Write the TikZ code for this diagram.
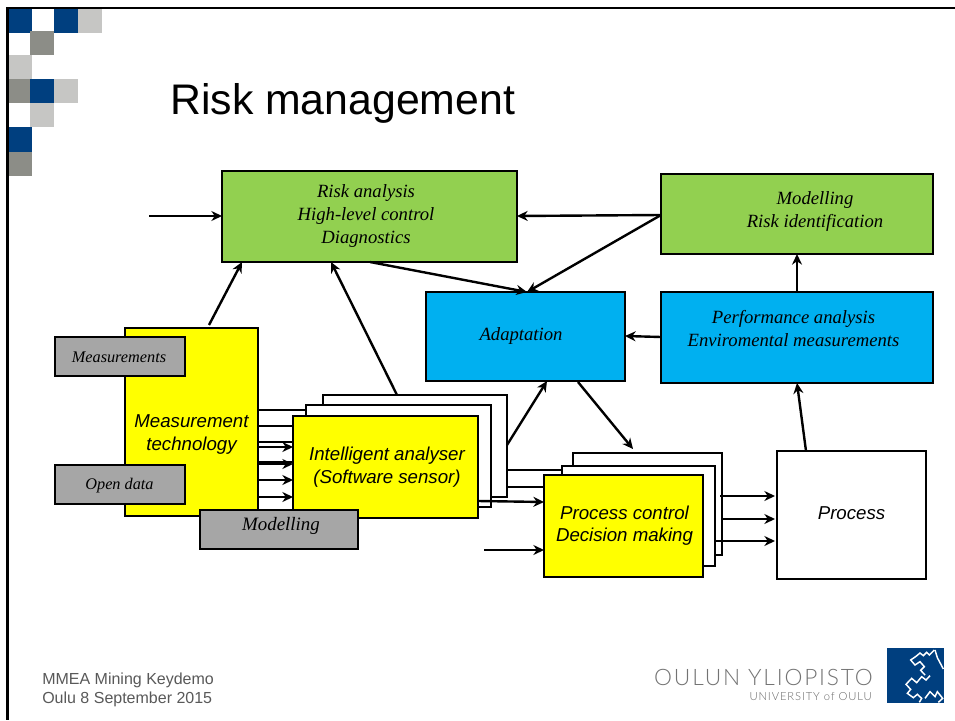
\documentclass[tikz,border=0pt]{standalone}
\usepackage{fontspec}
\setmainfont{Liberation Sans}
\newfontfamily\serifit{Liberation Serif}[ItalicFont=* Italic]
\newfontfamily\lato{Lato}[UprightFont=* Light]
\usetikzlibrary{arrows.meta}
\definecolor{ublue}{HTML}{003F7F}
\definecolor{ugray}{HTML}{8C8D87}
\definecolor{ulight}{HTML}{C6C6C4}
\definecolor{boxgreen}{HTML}{92D050}
\definecolor{boxblue}{HTML}{00B0F0}
\definecolor{boxgray}{HTML}{A6A6A6}
\definecolor{boxyellow}{HTML}{FFFF00}
\definecolor{txtgray}{HTML}{595959}
% name, style, x0, y0, x1, y1, text lines, dx right, dy up (px)
\newcommand{\pxbox}[9]{%
  \pgfmathsetmacro{\pxw}{(#5-#3)*0.75}\pgfmathsetmacro{\pxh}{(#6-#4)*0.75}%
  \pgfmathsetmacro{\pxcx}{(#3+#5)/2}\pgfmathsetmacro{\pxcy}{(#4+#6)/2}%
  \pgfmathsetmacro{\pxdx}{#8*0.75}\pgfmathsetmacro{\pxdy}{#9*0.75}%
  \node[#2,minimum width=\pxw pt,minimum height=\pxh pt] (#1) at (\pxcx,\pxcy)
    {\sbox0{\begin{tabular}{@{}c@{}}#7\end{tabular}}%
     \raisebox{\pxdy pt}[\ht0][\dp0]{\rlap{\hspace*{\pxdx pt}\usebox0}\hspace{\wd0}}};}
\newcommand{\cell}[3]{\fill[#3] (#1,#2) rectangle ++(24.3,24.3);}
\tikzset{
  x=0.75pt,y=-0.75pt,
  basebox/.style={draw=black,line width=1.9pt,inner sep=0pt,outer sep=0pt,align=center,text=black},
  serifbox/.style={basebox,font=\serifit\itshape\fontsize{14}{17}\selectfont},
  sansbox/.style={basebox,font=\itshape\fontsize{14}{17}\selectfont},
  greenbox/.style={serifbox,fill=boxgreen},
  bluebox/.style={serifbox,fill=boxblue},
  yellowbox/.style={sansbox,fill=boxyellow},
  whitebox/.style={sansbox,fill=white},
  graybox/.style={basebox,fill=boxgray,font=\serifit\itshape\fontsize{12.2}{14}\selectfont},
  arr/.style={line width=1.8pt,-{Stealth[length=8pt,width=7.5pt]}},
  plain/.style={line width=1.8pt},
  logoline/.style={draw=white,line width=1.1pt,line join=miter},
}
\begin{document}
\begin{tikzpicture}
\useasboundingbox (0,0) rectangle (955,720);
\fill[white] (0,0) rectangle (955,720);
% decorative squares
\cell{8}{8.5}{ublue}\cell{54}{8.5}{ublue}\cell{78}{8.5}{ulight}
\cell{30}{31}{ugray}
\cell{8}{55}{ulight}
\cell{8}{79}{ugray}\cell{30}{79}{ublue}\cell{54}{79}{ulight}
\cell{30}{103}{ulight}
\cell{8}{127.5}{ublue}
\cell{8}{152}{ugray}
\draw[line width=1.6pt,black] (955,8) -- (7.5,8) -- (7.5,720);
% title and footer
\node[anchor=base west,inner sep=0pt,font=\fontsize{32.1}{36}\selectfont] (title) at (170,115) {Risk management};
\node[anchor=base west,inner sep=0pt,text=txtgray,font=\fontsize{12}{14}\selectfont] (foot1) at (42,684) {MMEA Mining Keydemo};
\node[anchor=base west,inner sep=0pt,text=txtgray,font=\fontsize{12}{14}\selectfont] (foot2) at (42,703) {Oulu 8 September 2015};
% top boxes
\pxbox{risk}{greenbox}{222}{171}{517}{262}{Risk analysis\\High-level control\\Diagnostics}{-3.5}{0.5}
\pxbox{model}{greenbox}{661}{174}{933}{254}{Modelling\\Risk identification}{18}{2.5}
\pxbox{adapt}{bluebox}{426}{292}{625}{381}{Adaptation}{-4.5}{0.5}
\pxbox{perf}{bluebox}{661}{292}{933}{383}{Performance analysis\\Enviromental measurements}{-3.5}{7}
% measurement technology
\pxbox{mt}{yellowbox}{125}{328}{258}{516}{Measurement\\technology}{0}{-12.5}
% intelligent analyser inputs
\pxbox{iaback}{whitebox}{323}{395}{507}{497}{}{0}{0}
\pxbox{iamid}{whitebox}{306}{405}{491}{507}{}{0}{0}
\draw[plain] ([shift={(0,82)}]mt.north east) -- ([shift={(0,5)}]iamid.north west);
\pxbox{ia}{yellowbox}{293}{416}{478}{518}{Intelligent analyser\\(Software sensor)}{1.5}{-0.5}
\draw[plain] ([shift={(0,98)}]mt.north east) -- ([shift={(0,10)}]ia.north west);
\draw[plain] ([shift={(0,114)}]mt.north east) -- ([shift={(0,26)}]ia.north west);
\draw[arr] ([shift={(0,119)}]mt.north east) -- ([shift={(0,31)}]ia.north west);
\draw[plain] ([shift={(0,134)}]mt.north east) -- ([shift={(0,46)}]ia.north west);
\draw[arr] ([shift={(0,136)}]mt.north east) -- ([shift={(0,48)}]ia.north west);
\draw[arr] ([shift={(0,152)}]mt.north east) -- ([shift={(0,64)}]ia.north west);
\draw[arr] ([shift={(0,169)}]mt.north east) -- ([shift={(0,81)}]ia.north west);
% process control stack
\pxbox{pcback}{whitebox}{573}{453}{722}{555}{}{0}{0}
\pxbox{pcmid}{whitebox}{562}{466}{715}{566}{}{0}{0}
\draw[plain] ([shift={(0,75)}]iaback.north east) -- ([shift={(0,4)}]pcmid.north west);
\pxbox{pc}{yellowbox}{544}{475}{703}{577}{Process control\\Decision making}{1}{0}
\draw[plain] ([shift={(0,92)}]iaback.north east) -- ([shift={(0,12)}]pc.north west);
\draw[arr] ([shift={(0,85)}]ia.north east) -- ([shift={(0,27)}]pc.north west);
\coordinate (pcin) at (484,550);
\draw[arr] (pcin) -- ([shift={(0,75)}]pc.north west);
% process
\pxbox{proc}{whitebox}{777}{451}{926}{579}{Process}{0}{0}
\draw[arr] ([shift={(-2,43)}]pcback.north east) -- ([shift={(-2,45)}]proc.north west);
\draw[arr] ([shift={(0,66)}]pcback.north east) -- ([shift={(-2,68)}]proc.north west);
\draw[arr] ([shift={(0,75)}]pcmid.north east) -- ([shift={(-2,90)}]proc.north west);
% gray overlays
\pxbox{meas}{graybox}{55}{337}{185}{376}{Measurements}{-1}{-2}
\pxbox{open}{graybox}{55}{465}{185}{504}{Open data}{-0.5}{-1}
\pxbox{modgray}{graybox,font=\serifit\itshape\fontsize{14.2}{16}\selectfont}{200}{510}{358}{549}{Modelling}{2}{3}
% upper arrows
\coordinate (riskin) at (149,216);
\draw[arr] (riskin) -- ([shift={(0,45)}]risk.north west);
\draw[arr] ([shift={(0,41)}]model.north west) -- ([shift={(0,45)}]risk.north east);
\draw[arr] ([shift={(0,41)}]model.north west) -- ([shift={(101,0)}]adapt.north west);
\draw[arr] ([shift={(148,0)}]risk.south west) -- ([shift={(101,0)}]adapt.north west);
\draw[arr] ([shift={(84,-3)}]mt.north west) -- ([shift={(20,0)}]risk.south west);
\draw[arr] ([shift={(74,0)}]iaback.north west) -- ([shift={(109,0)}]risk.south west);
\draw[arr] (perf.north -| model.south) -- (model.south);
\draw[arr] ([shift={(0,45)}]perf.north west) -- ([shift={(0,44)}]adapt.north east);
\draw[arr] ([shift={(29,0)}]proc.north west) -- ([shift={(136,0)}]perf.south west);
\draw[arr] ([shift={(0,50)}]iaback.north east) -- ([shift={(121,0)}]adapt.south west);
\draw[arr] ([shift={(152,1)}]adapt.south west) -- ([shift={(60,-4)}]pcback.north west);
% logo
\node[anchor=base east,inner sep=0pt,text=black!55,font=\lato\fontsize{17}{18}\selectfont\addfontfeatures{LetterSpace=8}] (logo1) at (873,685) {OULUN YLIOPISTO};
\node[anchor=base east,inner sep=0pt,text=black!60,font=\lato\fontsize{8.4}{9}\selectfont\addfontfeatures{LetterSpace=8}] (logo2) at (872,700) {UNIVERSITY of OULU};
\begin{scope}
\clip (887,648) rectangle (944,703);
\fill[ublue] (887,648) rectangle (944,703);
\begin{scope}[shift={(880,645)},x=0.25pt,y=-0.25pt]
\draw[logoline] (163,15) -- (148,30) -- (140,22) -- (130,32) -- (120,24) -- (108,34) -- (92,45) -- (105,60) -- (120,50) -- (133,65) -- (122,76) -- (135,90);
\draw[logoline] (165,15) -- (172,38) -- (190,72);
\draw[logoline] (150,92) -- (138,105) -- (125,95) -- (110,113) -- (95,100) -- (78,118) -- (92,133) -- (82,145) -- (100,158) -- (112,148) -- (125,160) -- (118,172);
\draw[logoline] (135,160) -- (150,140) -- (165,155) -- (172,140) -- (188,160) -- (175,172);
\end{scope}
\end{scope}
\end{tikzpicture}
\end{document}
